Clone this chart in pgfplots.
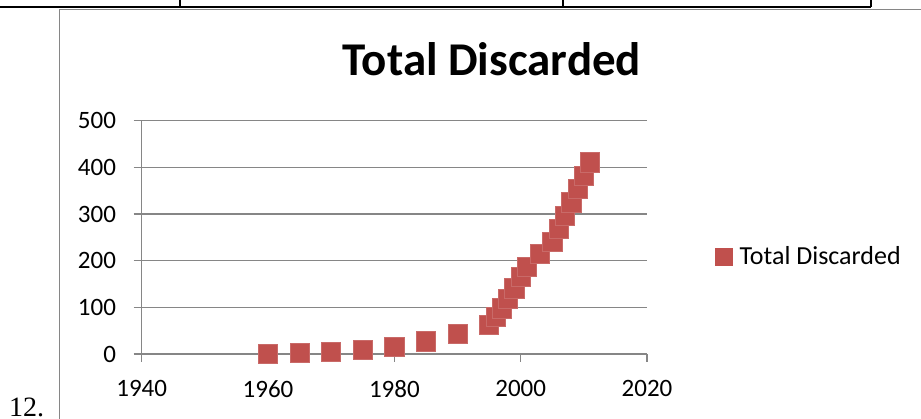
\documentclass[border=0pt]{standalone}
\usepackage{fontspec}
\setmainfont{Carlito}
\newfontfamily\serifnum{Liberation Serif}
\usepackage{pgfplots}
\pgfplotsset{compat=1.18}

\definecolor{excelred}{HTML}{C0504D}
\definecolor{axisgray}{HTML}{868686}

\begin{document}
\begin{tikzpicture}[x=1pt,y=1pt]
  \useasboundingbox (0,0) rectangle (921,419);

  % surrounding table rules and chart frame
  \draw[line width=2.2pt, black] (0,411.7) -- (871,411.7);
  \foreach \xx in {180,563,871} \draw[line width=2.2pt, black] (\xx,411.7) -- (\xx,419);
  \draw[line width=1.3pt, axisgray] (59.3,0) -- (59.3,409.6) -- (921,409.6);
  \node[anchor=base west, inner sep=0pt, font=\serifnum\fontsize{28}{32}\selectfont] at (9,2) {12.};

  \begin{axis}[
    at={(141.7pt,65pt)}, anchor=south west,
    scale only axis, width=505.3pt, height=233.3pt,
    xmin=1940, xmax=2020, ymin=0, ymax=500,
    xtick={1940,1960,...,2020}, ytick={0,100,...,500},
    axis lines*=left,
    axis line style={axisgray, line width=1.4pt},
    tick align=outside, major tick length=8pt,
    tick style={axisgray, line width=1.4pt},
    ymajorgrids, grid style={axisgray, line width=1.6pt},
    /pgf/number format/1000 sep={},
    /pgf/number format/assume math mode=true,
    ticklabel style={font=\fontsize{25}{30}\selectfont, inner sep=0pt},
    yticklabel style={anchor=east, xshift=-17.5pt},
    xticklabel style={anchor=north, yshift=-18pt},
    title={\textbf{Total Discarded}},
    title style={at={(rel axis cs:0.693,1.17)}, anchor=base, inner sep=0pt,
      font=\fontsize{47}{52}\selectfont},
    legend style={at={(rel axis cs:1.1346,0.4188)}, anchor=west, draw=none, fill=none,
      inner sep=0pt, nodes={inner sep=0pt}, font=\fontsize{26}{30}\selectfont,
      /tikz/every odd column/.append style={column sep=7pt}},
    legend cell align=left,
    legend image code/.code={\fill[excelred] (0pt,-8.5pt) rectangle (17pt,8.5pt);},
  ]
    \addplot[only marks, mark=square*, mark size=9.6pt,
      mark options={fill=excelred, draw=excelred!85!white, line width=0.6pt}]
      coordinates {
        (1960,0.5) (1965,3) (1970,5) (1975,9) (1980,16)
        (1985,27) (1990,43) (1995,62) (1996,80) (1997,98)
        (1998,119) (1999,141) (2000,166) (2001,187) (2003,214)
        (2005,241) (2006,268) (2007,296) (2008,325) (2009,354)
        (2010,382) (2011,411)
      };
    \addlegendentry{Total Discarded}
  \end{axis}
\end{tikzpicture}
\end{document}
